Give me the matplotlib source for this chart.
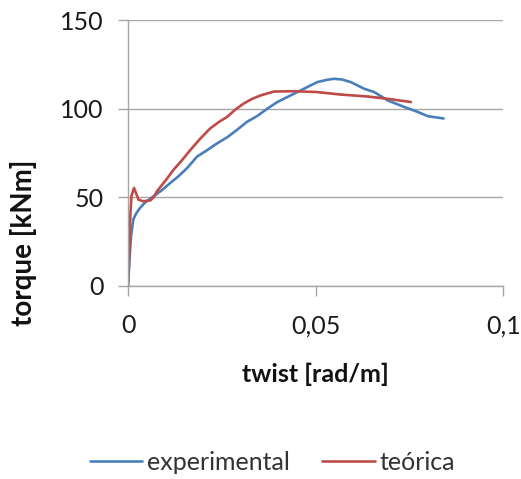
import matplotlib
matplotlib.use("Agg")
import matplotlib.pyplot as plt
from matplotlib.ticker import FuncFormatter

plt.rcParams["font.family"] = ["Lato", "DejaVu Sans"]

# experimental curve (twist [rad/m], torque [kNm])
exp_twist = [0.0, 0.0003, 0.0008, 0.0014, 0.0022, 0.0032, 0.0045, 0.0068, 0.0090,
             0.0112, 0.0135, 0.0157, 0.0184, 0.0210, 0.0237, 0.0265, 0.0290,
             0.0317, 0.0345, 0.0371, 0.0398, 0.0433, 0.0469, 0.0504, 0.0530,
             0.0549, 0.0570, 0.0594, 0.0629, 0.0656, 0.0692, 0.0736, 0.0772,
             0.0799, 0.0841]
exp_torque = [0.0, 12.0, 28.0, 37.5, 41.0, 44.0, 47.0, 50.6, 54.0,
              58.0, 62.0, 66.4, 73.0, 76.5, 80.4, 84.0, 88.0,
              92.6, 96.0, 100.0, 103.8, 107.5, 111.3, 115.0, 116.3,
              116.9, 116.5, 115.0, 111.3, 109.4, 104.7, 101.0, 98.2,
              95.8, 94.5]

# theoretical curve
teo_twist = [0.0, 0.0003, 0.0005, 0.0009, 0.0016, 0.0022, 0.0028, 0.0040, 0.0060,
             0.0070, 0.0077, 0.0100, 0.0121, 0.0144, 0.0166, 0.0192, 0.0219,
             0.0242, 0.0264, 0.0286, 0.0308, 0.0330, 0.0353, 0.0389, 0.0442,
             0.0504, 0.0567, 0.0638, 0.0692, 0.0754]
teo_torque = [0.0, 15.0, 35.0, 50.6, 55.3, 52.0, 48.7, 47.8, 48.3,
              50.6, 53.4, 59.5, 65.5, 71.0, 76.7, 83.0, 88.9,
              92.5, 95.4, 99.5, 102.9, 105.5, 107.5, 109.7, 109.9,
              109.4, 108.0, 106.9, 105.6, 103.8]

x_ticks = [0, 0.05, 0.1]
y_ticks = [0, 50, 100, 150]

blue = "#4A7EBB"
red = "#BE4B48"
grid_c = "#A6A6A6"

fig = plt.figure(figsize=(5.21, 4.79), dpi=100)
ax = fig.add_axes([0.2457, 0.403, 0.9660 - 0.2457, 0.958 - 0.403])

ax.plot(exp_twist, exp_torque, color=blue, lw=1.9, label="experimental",
        solid_capstyle="round", solid_joinstyle="round")
ax.plot(teo_twist, teo_torque, color=red, lw=1.9, label="teórica",
        solid_capstyle="round", solid_joinstyle="round")

ax.set_xlim(0, 0.1)
ax.set_ylim(0, 150)
ax.set_xticks(x_ticks)
ax.set_yticks(y_ticks)
ax.xaxis.set_major_formatter(FuncFormatter(lambda v, p: ("%g" % v).replace(".", ",")))
ax.yaxis.grid(True, color=grid_c, lw=1.0)
ax.set_axisbelow(True)

for s in ["top", "right"]:
    ax.spines[s].set_visible(False)
for s in ["left", "bottom"]:
    ax.spines[s].set_color(grid_c)
    ax.spines[s].set_linewidth(1.0)

ax.tick_params(axis="both", colors=grid_c, length=7.5, width=1.0, labelsize=18,
               labelcolor="#1a1a1a")
ax.tick_params(axis="x", pad=13)
ax.tick_params(axis="y", pad=10)

fig.text(0.605, 1 - 374 / 479, "twist [rad/m]", ha="center", va="center",
         fontsize=18, fontweight="bold", color="#111111")
fig.text(0.045, 1 - 243 / 479, "torque [kNm]", ha="center", va="center",
         rotation=90, fontsize=20, fontweight="bold", color="#111111")

fig.legend(loc="center", bbox_to_anchor=(0.523, 1 - 462 / 479), ncol=2,
           frameon=False, fontsize=18, handlelength=2.1, columnspacing=1.3,
           handletextpad=0.2, labelcolor="#333333")

fig.savefig("out.png", dpi=100)
